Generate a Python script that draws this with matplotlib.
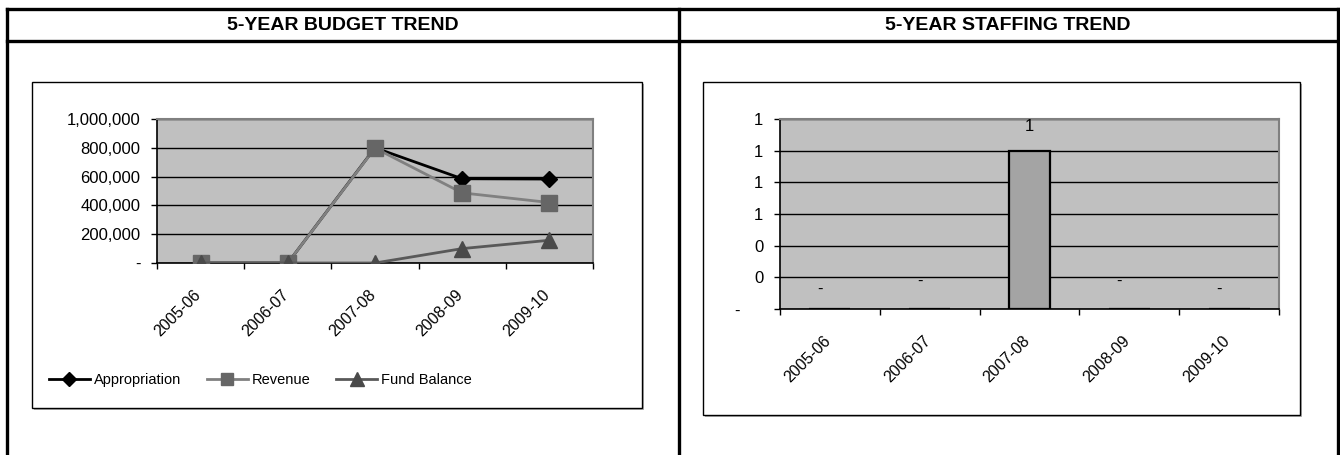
import matplotlib
matplotlib.use("Agg")
import matplotlib.pyplot as plt
from matplotlib.lines import Line2D
from matplotlib.patches import Rectangle
from matplotlib.ticker import FixedLocator, FuncFormatter, NullFormatter
from matplotlib.transforms import ScaledTranslation
from matplotlib import font_manager

plt.rcParams['font.family'] = ['Liberation Sans', 'DejaVu Sans']

# fiscal years shown on both charts
years = ["2005-06", "2006-07", "2007-08", "2008-09", "2009-10"]

# budget series
appropriation = [0, 0, 800000, 585000, 583000]
revenue = [0, 0, 798000, 487000, 420000]
fund_balance = [0, 0, 0, 100000, 158000]

# staffing (positions)
staffing = [0, 0, 1, 0, 0]

W, H = 1340, 455
fig = plt.figure(figsize=(W / 100, H / 100), dpi=100)


def box(x0, y0, x1, y1):
    # pixel box (top-left origin) -> figure rect
    return [x0 / W, 1 - y1 / H, (x1 - x0) / W, (y1 - y0) / H]


def fx(x):
    return x / W


def fy(y):
    return 1 - y / H


def acct(v, pos=None):
    if abs(v) < 1e-9:
        return "-"
    return f"{v:,.0f}"


# table grid around the two charts
lw = 2.4
for (xa, ya, xb, yb) in [(7, 9, 1338, 9), (7, 41, 1338, 41),
                         (7, 9, 7, 455), (679, 9, 679, 455), (1338, 9, 1338, 455)]:
    fig.add_artist(Line2D([fx(xa), fx(xb)], [fy(ya), fy(yb)], color="black", lw=lw))

# narrow bold heading if a condensed face is around
names = {f.name for f in font_manager.fontManager.ttflist}
narrow = [n for n in ["Liberation Sans Narrow", "DejaVu Sans Condensed"] if n in names]
if narrow:
    title_kw = dict(family=[narrow[0], 'Liberation Sans'], fontsize=15.5)
else:
    title_kw = dict(fontsize=14)
fig.text(fx(343), fy(25), "5-YEAR BUDGET TREND", ha="center", va="center",
         fontweight="bold", **title_kw)
fig.text(fx(1008), fy(25), "5-YEAR STAFFING TREND", ha="center", va="center",
         fontweight="bold", **title_kw)

# chart frames with a soft shadow
for (x0, y0, x1, y1) in [(32, 82, 642, 408), (703, 82, 1300, 415)]:
    fig.add_artist(Rectangle((fx(x0 + 2), fy(y1 + 2)), fx(x1 - x0), fy(y0) - fy(y1),
                             transform=fig.transFigure, facecolor="#b0b0b0",
                             edgecolor="none", zorder=0))
    fig.add_artist(Rectangle((fx(x0), fy(y1)), fx(x1 - x0), fy(y0) - fy(y1),
                             transform=fig.transFigure, facecolor="white",
                             edgecolor="black", lw=1.0, zorder=0.5))

x = list(range(len(years)))
fs = 12


def style_axes(ax, ymax, ystep):
    ax.set_zorder(2)
    ax.set_facecolor("#c0c0c0")
    ax.set_xlim(-0.5, len(years) - 0.5)
    ax.set_ylim(0, ymax)
    ticks = [i * ystep for i in range(int(round(ymax / ystep)) + 1)]
    ax.yaxis.set_major_locator(FixedLocator(ticks))
    ax.yaxis.set_major_formatter(FuncFormatter(acct))
    ax.grid(axis="y", color="black", lw=1.0)
    ax.set_axisbelow(True)
    ax.set_xticks([i - 0.5 for i in range(len(years) + 1)])
    ax.xaxis.set_major_formatter(NullFormatter())
    ax.tick_params(axis="x", length=4, width=1, direction="out")
    ax.tick_params(axis="y", length=4, width=1, direction="out", labelsize=fs, pad=8)
    # rotated category labels, ending just below and left of each category
    off = ScaledTranslation(-0.07, -0.24, fig.dpi_scale_trans)
    for i, yr in enumerate(years):
        ax.text(x[i], 0, yr, transform=ax.get_xaxis_transform() + off,
                rotation=45, ha="right", va="top", rotation_mode="anchor",
                fontsize=11.5, clip_on=False)
    for s in ["top", "right"]:
        ax.spines[s].set_color("#808080")
        ax.spines[s].set_linewidth(1.5)
    for s in ["left", "bottom"]:
        ax.spines[s].set_color("black")
        ax.spines[s].set_linewidth(1.2)


# budget line chart
ax1 = fig.add_axes(box(157, 119, 593, 263))
style_axes(ax1, 1000000, 200000)
ax1.plot(x, appropriation, color="black", lw=2, marker="D", ms=8,
         mfc="black", mec="black", label="Appropriation", zorder=3)
ax1.plot(x, revenue, color="#808080", lw=2, marker="s", ms=11,
         mfc="#666666", mec="#666666", label="Revenue", zorder=4)
ax1.plot(x, fund_balance, color="#595959", lw=2, marker="^", ms=12,
         mfc="#4a4a4a", mec="#4a4a4a", label="Fund Balance", zorder=5)
ax1.legend(loc="center left", bbox_to_anchor=(fx(49), fy(380)),
           bbox_transform=fig.transFigure, ncol=3, frameon=False,
           borderpad=0, borderaxespad=0,
           fontsize=10.5, handlelength=2.8, columnspacing=1.8, handletextpad=0.25,
           markerscale=0.85)

# staffing bar chart
ax2 = fig.add_axes(box(780, 119, 1279, 309))
style_axes(ax2, 1.2, 0.2)
ax2.yaxis.set_major_formatter(FuncFormatter(lambda v, p: "-     " if abs(v) < 1e-9 else f"{v:,.0f}"))
ax2.bar(x, staffing, width=0.41, color="#a4a4a4", edgecolor="black", lw=1.6, zorder=3)

# value labels above each bar
label_dy = [20, 28, 24, 28, 20]
for i, v in enumerate(staffing):
    dx = 0 if v else -10
    ax2.annotate(acct(v), (x[i], v), xytext=(dx * 0.72, label_dy[i] * 0.72),
                 textcoords="offset points", ha="center", va="center", fontsize=fs)

fig.savefig("out.png", dpi=100)
